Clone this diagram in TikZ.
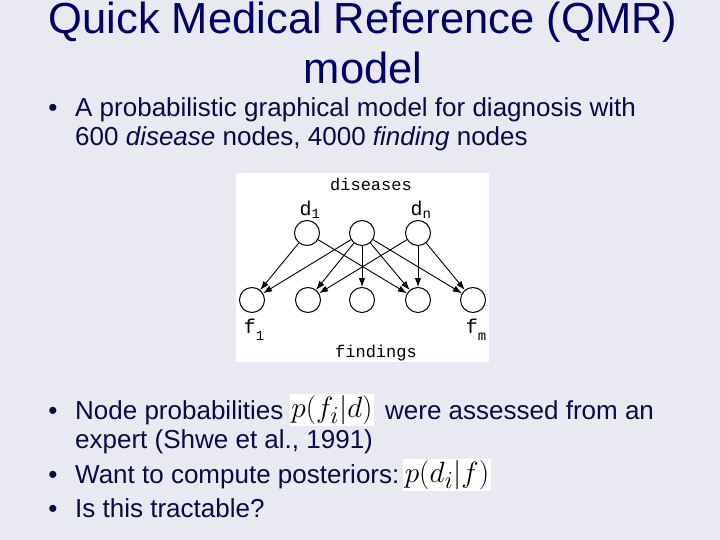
\documentclass[tikz,border=0pt]{standalone}
\usepackage{fontspec}
\setmainfont{Liberation Sans}
\newfontfamily\diagfont{Liberation Mono}
\usetikzlibrary{arrows.meta}
\definecolor{slidebg}{RGB}{232,233,241}
\definecolor{titleblue}{RGB}{0,0,102}
\definecolor{textblue}{RGB}{10,10,70}
\newcommand{\bigmath}[1]{\scalebox{1.18}{$#1$}}

\begin{document}
\begin{tikzpicture}[x=1pt, y=-1pt,
        var/.style={draw, circle, minimum size=25pt, inner sep=0pt, line width=1pt},
        edge/.style={-{Latex[length=9pt, width=6.5pt]}, line width=0.9pt},
        title/.style={anchor=base, text=titleblue, font=\fontsize{43.5}{50}\selectfont, inner sep=0pt},
        body/.style={anchor=base west, text=textblue, font=\fontsize{26}{30}\selectfont, inner sep=0pt},
        dot/.style={anchor=base, text=textblue, font=\fontsize{26}{28}\selectfont, inner sep=0pt},
        mathbox/.style={fill=white, inner sep=1.5pt, font=\fontsize{24.88}{30}\selectfont},
        label/.style={font=\diagfont\fontsize{17}{20}\selectfont, inner sep=0pt},
        sublabel/.style={font=\diagfont\fontsize{20}{22}\selectfont, inner sep=0pt}]
        \fill[slidebg] (0, 0) rectangle (720, 540);
        \useasboundingbox (0, 0) rectangle (720, 540);

        % title
        \node[title] (t1) at (363, 34) {Quick Medical Reference (QMR)};
        \node[title] (t2) at (363, 84) {model};

        % first bullet
        \node[dot] (b1) at (53, 117) {•};
        \node[body] (l1) at (75, 117) {A probabilistic graphical model for diagnosis with};
        \node[body] (l2) at (75, 146) {600 \textit{disease} nodes, 4000 \textit{finding} nodes};

        % network
        \fill[white] (236, 173) rectangle (489, 362);
        \node[label] (dis) at (371, 184) {diseases};
        \node[label] (fin) at (376, 353) {findings};

        \node[var] (d1) at (307, 233) {};
        \node[var] (d2) at (362, 233) {};
        \node[var] (dn) at (418, 233) {};
        \node[var] (f1) at (252, 300) {};
        \node[var] (f2) at (308, 300) {};
        \node[var] (f3) at (362, 300) {};
        \node[var] (f4) at (418, 300) {};
        \node[var] (f5) at (473, 300) {};

        \node[sublabel] (ld1) at (310, 210) {d\textsubscript{1}};
        \node[sublabel] (ldn) at (421, 210) {d\textsubscript{n}};
        \node[sublabel] (lf1) at (254, 330) {f\raisebox{-7pt}{\fontsize{14}{14}\selectfont 1}};
        \node[sublabel] (lfm) at (476, 330) {f\raisebox{-7pt}{\fontsize{14}{14}\selectfont m}};

        \draw[edge] (d1) -- (f1);
        \draw[edge] (d1) -- (f4);
        \draw[edge] (d2) -- (f1);
        \draw[edge] (d2) -- (f2);
        \draw[edge] (d2) -- (f3);
        \draw[edge] (d2) -- (f4);
        \draw[edge] (d2) -- (f5);
        \draw[edge] (dn) -- (f2);
        \draw[edge] (dn) -- (f4);
        \draw[edge] (dn) -- (f5);

        % remaining bullets
        \node[dot] (b2) at (53, 419) {•};
        \node[body] (l3) at (75, 419) {Node probabilities};
        \node[mathbox] (pf) at (332, 410) {\bigmath{p(f_i|d)}};
        \node[body] (l4) at (385, 419) {were assessed from an};
        \node[body] (l5) at (75, 448) {expert (Shwe et al., 1991)};
        \node[dot] (b3) at (53, 483) {•};
        \node[body] (l6) at (75, 483) {Want to compute posteriors:};
        \node[mathbox] (pd) at (447, 475) {\bigmath{p(d_i|f)}};
        \node[dot] (b4) at (53, 517) {•};
        \node[body] (l7) at (75, 517) {Is this tractable?};
\end{tikzpicture}
\end{document}
